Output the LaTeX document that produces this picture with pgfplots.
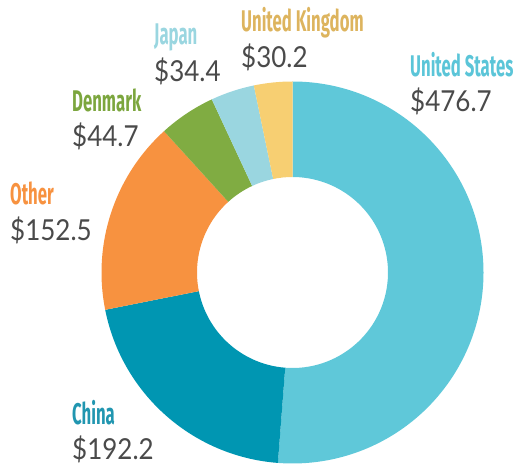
\documentclass[border=0pt]{standalone}
\usepackage{pgfplots}
\pgfplotsset{compat=1.18}
\usepackage{pgfplotstable}
\usepackage{fontspec}
\setmainfont{Lato}
\newfontfamily\labfont{Fira Sans}
\definecolor{c0}{HTML}{5FC8D9}
\definecolor{c1}{HTML}{0096B2}
\definecolor{c2}{HTML}{F79240}
\definecolor{c3}{HTML}{80AC42}
\definecolor{c4}{HTML}{9AD6E0}
\definecolor{c5}{HTML}{F7CF72}
\definecolor{l0}{HTML}{5BC5D8}
\definecolor{l1}{HTML}{2196B0}
\definecolor{l2}{HTML}{F79240}
\definecolor{l3}{HTML}{7CA63E}
\definecolor{l4}{HTML}{9AD6E0}
\definecolor{l5}{HTML}{DDB45E}
\definecolor{valgray}{HTML}{4A4A4A}
\pgfplotstableread{
name value
US 476.7
China 192.2
Other 152.5
Denmark 44.7
Japan 34.4
UK 30.2
}\datatable
\newcommand\lab[2]{{\color{#1}\labfont\bfseries\fontsize{30}{30}\selectfont\scalebox{0.56}[1]{#2}}}
\newcommand\val[1]{{\color{valgray}\fontsize{29}{29}\selectfont\scalebox{0.9}[1]{#1}}}
\begin{document}
\begin{tikzpicture}
\def\total{0}
\pgfplotsforeachungrouped \i in {0,...,5}{%
  \pgfplotstablegetelem{\i}{value}\of\datatable
  \pgfmathsetmacro\total{\total+\pgfplotsretval}%
}
\def\cum{0}
\pgfplotsforeachungrouped \i in {0,...,5}{%
  \pgfplotstablegetelem{\i}{value}\of\datatable
  \pgfmathsetmacro\sa{90-360*(\cum/\total)}%
  \pgfmathsetmacro\cum{\cum+\pgfplotsretval}%
  \pgfmathsetmacro\ea{90-360*(\cum/\total)}%
  \expandafter\xdef\csname sa\i\endcsname{\sa}%
  \expandafter\xdef\csname ea\i\endcsname{\ea}%
}
\begin{axis}[
  width=514bp, height=465bp, scale only axis,
  xmin=0, xmax=514, ymin=0, ymax=465,
  hide axis, clip=false,
]
\pgfplotsinvokeforeach{0,...,5}{%
  \fill[c#1] (axis cs:292.5,192.5) ++(\csname sa#1\endcsname:191bp)
    arc[start angle=\csname sa#1\endcsname, end angle=\csname ea#1\endcsname, radius=191bp]
    -- ++(\csname ea#1\endcsname:-95.5bp)
    arc[start angle=\csname ea#1\endcsname, end angle=\csname sa#1\endcsname, radius=95.5bp]
    -- cycle;
}
\coordinate (ll) at (axis cs:0,0);
\coordinate (ur) at (axis cs:514,465);
\node[anchor=base west, inner sep=0pt] at (axis cs:410,388) {\lab{l0}{United States}};
\node[anchor=base west, inner sep=0pt] at (axis cs:410,353) {\val{\$476.7}};
\node[anchor=base west, inner sep=0pt] at (axis cs:72,40) {\lab{l1}{China}};
\node[anchor=base west, inner sep=0pt] at (axis cs:72,6) {\val{\$192.2}};
\node[anchor=base west, inner sep=0pt] at (axis cs:10,260) {\lab{l2}{Other}};
\node[anchor=base west, inner sep=0pt] at (axis cs:10,224) {\val{\$152.5}};
\node[anchor=base west, inner sep=0pt] at (axis cs:72,353) {\lab{l3}{Denmark}};
\node[anchor=base west, inner sep=0pt] at (axis cs:72,318) {\val{\$44.7}};
\node[anchor=base west, inner sep=0pt] at (axis cs:154,420) {\lab{l4}{Japan}};
\node[anchor=base west, inner sep=0pt] at (axis cs:154,383) {\val{\$34.4}};
\node[anchor=base west, inner sep=0pt] at (axis cs:241,433) {\lab{l5}{United Kingdom}};
\node[anchor=base west, inner sep=0pt] at (axis cs:241,397) {\val{\$30.2}};
\end{axis}
\pgfresetboundingbox
\path (ll) rectangle (ur);
\end{tikzpicture}
\end{document}
